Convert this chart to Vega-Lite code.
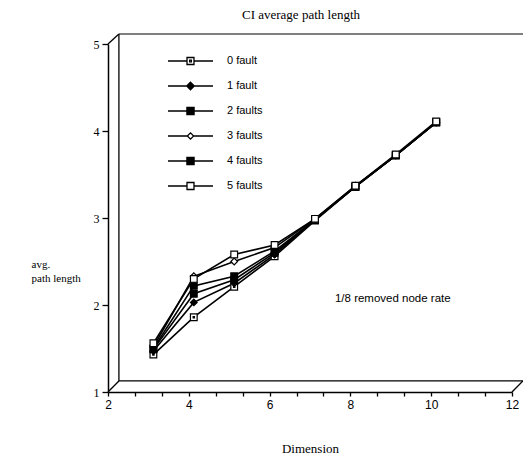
{
  "$schema": "https://vega.github.io/schema/vega-lite/v6.json",
  "width": 404,
  "height": 348,
  "autosize": "none",
  "padding": {"left": 108, "top": 44, "right": 11, "bottom": 64},
  "background": "white",
  "config": {
    "view": {"stroke": null},
    "axis": {"grid": false, "domainColor": "black", "tickColor": "black", "labelColor": "black", "titleColor": "black", "domainWidth": 1.5, "tickWidth": 1.3}
  },
  "title": {"text": "CI average path length", "font": "Liberation Serif", "fontSize": 13, "fontWeight": "normal", "color": "black", "anchor": "middle", "dx": -9, "offset": 11},
  "data": {
    "values": [
      {"dim": 3, "len": 1.43, "series": "0 fault"}, {"dim": 4, "len": 1.86, "series": "0 fault"}, {"dim": 5, "len": 2.21, "series": "0 fault"}, {"dim": 6, "len": 2.56, "series": "0 fault"}, {"dim": 7, "len": 2.97, "series": "0 fault"}, {"dim": 8, "len": 3.36, "series": "0 fault"}, {"dim": 9, "len": 3.72, "series": "0 fault"}, {"dim": 10, "len": 4.1, "series": "0 fault"},
      {"dim": 3, "len": 1.47, "series": "1 fault"}, {"dim": 4, "len": 2.03, "series": "1 fault"}, {"dim": 5, "len": 2.25, "series": "1 fault"}, {"dim": 6, "len": 2.58, "series": "1 fault"}, {"dim": 7, "len": 2.98, "series": "1 fault"}, {"dim": 8, "len": 3.36, "series": "1 fault"}, {"dim": 9, "len": 3.72, "series": "1 fault"}, {"dim": 10, "len": 4.1, "series": "1 fault"},
      {"dim": 3, "len": 1.49, "series": "2 faults"}, {"dim": 4, "len": 2.13, "series": "2 faults"}, {"dim": 5, "len": 2.29, "series": "2 faults"}, {"dim": 6, "len": 2.6, "series": "2 faults"}, {"dim": 7, "len": 2.98, "series": "2 faults"}, {"dim": 8, "len": 3.36, "series": "2 faults"}, {"dim": 9, "len": 3.72, "series": "2 faults"}, {"dim": 10, "len": 4.1, "series": "2 faults"},
      {"dim": 3, "len": 1.52, "series": "3 faults"}, {"dim": 4, "len": 2.33, "series": "3 faults"}, {"dim": 5, "len": 2.5, "series": "3 faults"}, {"dim": 6, "len": 2.66, "series": "3 faults"}, {"dim": 7, "len": 2.99, "series": "3 faults"}, {"dim": 8, "len": 3.37, "series": "3 faults"}, {"dim": 9, "len": 3.72, "series": "3 faults"}, {"dim": 10, "len": 4.1, "series": "3 faults"},
      {"dim": 3, "len": 1.5, "series": "4 faults"}, {"dim": 4, "len": 2.22, "series": "4 faults"}, {"dim": 5, "len": 2.33, "series": "4 faults"}, {"dim": 6, "len": 2.62, "series": "4 faults"}, {"dim": 7, "len": 2.98, "series": "4 faults"}, {"dim": 8, "len": 3.36, "series": "4 faults"}, {"dim": 9, "len": 3.72, "series": "4 faults"}, {"dim": 10, "len": 4.1, "series": "4 faults"},
      {"dim": 3, "len": 1.56, "series": "5 faults"}, {"dim": 4, "len": 2.3, "series": "5 faults"}, {"dim": 5, "len": 2.58, "series": "5 faults"}, {"dim": 6, "len": 2.69, "series": "5 faults"}, {"dim": 7, "len": 2.99, "series": "5 faults"}, {"dim": 8, "len": 3.37, "series": "5 faults"}, {"dim": 9, "len": 3.73, "series": "5 faults"}, {"dim": 10, "len": 4.11, "series": "5 faults"}
    ]
  },
  "layer": [
    {
      "mark": {"type": "line", "color": "black", "strokeWidth": 1.6, "xOffset": 5},
      "encoding": {
        "x": {
          "field": "dim", "type": "quantitative",
          "scale": {"domain": [2, 12], "nice": false, "zero": false},
          "axis": {
            "orient": "bottom",
            "title": "Dimension", "titleFont": "Liberation Serif", "titleFontSize": 13, "titleFontWeight": "normal", "titleY": 56, "titleBaseline": "middle",
            "values": [2, 4, 6, 8, 10, 12], "format": "d",
            "labelFont": "Liberation Sans", "labelFontSize": 12, "labelPadding": 3, "tickSize": 4, "labelFlush": false, "labelOverlap": false
          }
        },
        "y": {
          "field": "len", "type": "quantitative",
          "scale": {"domain": [1, 5], "nice": false, "zero": false},
          "axis": {
            "title": ["avg.", "path length"], "titleFont": "Liberation Serif", "titleFontSize": 11, "titleFontWeight": "normal",
            "titleAngle": 0, "titleAlign": "left", "titleBaseline": "top", "titleX": -77, "titleY": 214, "titleLineHeight": 14,
            "values": [1, 2, 3, 4, 5], "format": "d", "labelFont": "Liberation Serif", "labelFontSize": 12, "tickSize": 6, "labelPadding": 3, "labelFlush": false
          }
        },
        "detail": {"field": "series"}
      }
    },
    {
      "mark": {"type": "point", "filled": true, "stroke": "black", "strokeWidth": 1.2, "opacity": 1, "size": 45, "xOffset": 5},
      "encoding": {
        "x": {"field": "dim", "type": "quantitative", "scale": {"domain": [2, 12], "nice": false, "zero": false}, "axis": null},
        "y": {"field": "len", "type": "quantitative", "scale": {"domain": [1, 5], "nice": false, "zero": false}},
        "shape": {
          "field": "series", "type": "nominal", "legend": null,
          "scale": {
            "domain": ["0 fault", "1 fault", "2 faults", "3 faults", "4 faults", "5 faults"],
            "range": ["M-1,-1H1V1H-1ZM-0.2,-0.2H0.2V0.2H-0.2Z", "diamond", "square", "diamond", "square", "square"]
          }
        },
        "fill": {
          "field": "series", "type": "nominal", "legend": null,
          "scale": {
            "domain": ["0 fault", "1 fault", "2 faults", "3 faults", "4 faults", "5 faults"],
            "range": ["white", "black", "black", "white", "black", "white"]
          }
        }
      }
    },
    {
      "mark": {"type": "point", "filled": false, "color": "black", "strokeWidth": 1.3, "opacity": 0},
      "encoding": {
        "x": {"field": "dim", "type": "quantitative", "scale": {"domain": [2, 12], "nice": false, "zero": false}, "axis": null},
        "y": {"field": "len", "type": "quantitative", "scale": {"domain": [1, 5], "nice": false, "zero": false}},
        "shape": {
          "field": "series", "type": "nominal",
          "scale": {
            "domain": ["0 fault", "1 fault", "2 faults", "3 faults", "4 faults", "5 faults"],
            "range": [
              "M-1,0H-0.155M0.155,0H1M-0.155,-0.155H0.155V0.155H-0.155ZM-0.04,-0.04H0.04V0.04H-0.04Z",
              "M-1,0H1M-0.17,0L0,-0.17L0.17,0L0,0.17ZM-0.11,-0.06H0.11M-0.11,0.06H0.11M-0.05,-0.12H0.05M-0.05,0.12H0.05",
              "M-1,0H1M-0.16,-0.16H0.16V0.16H-0.16ZM-0.16,-0.1H0.16M-0.16,-0.05H0.16M-0.16,0.05H0.16M-0.16,0.1H0.16",
              "M-1,0H-0.14M0.14,0H1M-0.14,0L0,-0.14L0.14,0L0,0.14Z",
              "M-1,0H1M-0.16,-0.16H0.16V0.16H-0.16ZM-0.16,-0.1H0.16M-0.16,-0.05H0.16M-0.16,0.05H0.16M-0.16,0.1H0.16",
              "M-1,0H-0.155M0.155,0H1M-0.155,-0.155H0.155V0.155H-0.155Z"
            ]
          },
          "legend": {
            "orient": "none", "legendX": 59, "legendY": 4.5, "title": null, "padding": 0,
            "symbolSize": 2025, "clipHeight": 25, "rowPadding": 0, "labelOffset": 13,
            "labelFont": "Liberation Sans", "labelFontSize": 11, "labelColor": "black",
            "symbolStrokeColor": "black", "symbolFillColor": "transparent", "symbolStrokeWidth": 1.3, "symbolOpacity": 1
          }
        }
      }
    },
    {
      "data": {"values": [{}]},
      "mark": {"type": "rule", "color": "black", "strokeWidth": 1.3},
      "encoding": {
        "x": {"datum": 2.27, "type": "quantitative", "scale": {"domain": [2, 12], "nice": false, "zero": false}, "axis": null},
        "y": {"datum": 1.127, "type": "quantitative", "scale": {"domain": [1, 5], "nice": false, "zero": false}},
        "y2": {"datum": 5.115}
      }
    },
    {
      "data": {"values": [{}]},
      "mark": {"type": "rule", "color": "black", "strokeWidth": 1.2},
      "encoding": {
        "x": {"datum": 2.27, "type": "quantitative", "scale": {"domain": [2, 12], "nice": false, "zero": false}, "axis": null},
        "x2": {"datum": 12.6},
        "y": {"datum": 5.115, "type": "quantitative", "scale": {"domain": [1, 5], "nice": false, "zero": false}}
      }
    },
    {
      "data": {"values": [{}]},
      "mark": {"type": "rule", "color": "black", "strokeWidth": 1.2},
      "encoding": {
        "x": {
          "datum": 2.27, "type": "quantitative", "scale": {"domain": [2, 12], "nice": false, "zero": false},
          "axis": {"orient": "top", "offset": -352, "values": [2.6667, 3.3333, 4.6667, 5.3333, 6.6667, 7.3333, 8.6667, 9.3333, 10.6667, 11.3333], "labels": false, "domain": false, "title": null, "ticks": true, "tickSize": 4, "tickWidth": 1.3, "tickColor": "black", "tickOpacity": 1}
        },
        "x2": {"datum": 12.27},
        "y": {"datum": 1.127, "type": "quantitative", "scale": {"domain": [1, 5], "nice": false, "zero": false}}
      }
    },
    {
      "data": {"values": [{}]},
      "mark": {"type": "rule", "color": "black", "strokeWidth": 1.3},
      "encoding": {
        "x": {"datum": 2, "type": "quantitative", "scale": {"domain": [2, 12], "nice": false, "zero": false}, "axis": null},
        "x2": {"datum": 2.27},
        "y": {"datum": 1, "type": "quantitative", "scale": {"domain": [1, 5], "nice": false, "zero": false}},
        "y2": {"datum": 1.127}
      }
    },
    {
      "data": {"values": [{}]},
      "mark": {"type": "rule", "color": "black", "strokeWidth": 1.3},
      "encoding": {
        "x": {"datum": 2, "type": "quantitative", "scale": {"domain": [2, 12], "nice": false, "zero": false}, "axis": null},
        "x2": {"datum": 2.27},
        "y": {"datum": 5, "type": "quantitative", "scale": {"domain": [1, 5], "nice": false, "zero": false}},
        "y2": {"datum": 5.115}
      }
    },
    {
      "data": {"values": [{}]},
      "mark": {"type": "rule", "color": "black", "strokeWidth": 1.3},
      "encoding": {
        "x": {"datum": 12, "type": "quantitative", "scale": {"domain": [2, 12], "nice": false, "zero": false}, "axis": null},
        "x2": {"datum": 12.27},
        "y": {"datum": 1, "type": "quantitative", "scale": {"domain": [1, 5], "nice": false, "zero": false}},
        "y2": {"datum": 1.127}
      }
    },
    {
      "data": {"values": [{}]},
      "mark": {"type": "text", "text": "1/8 removed node rate", "font": "Liberation Sans", "fontSize": 11.5, "fontWeight": "normal", "fill": "black", "align": "center", "baseline": "middle"},
      "encoding": {
        "x": {"datum": 9.05, "type": "quantitative", "scale": {"domain": [2, 12], "nice": false, "zero": false}, "axis": null},
        "y": {"datum": 2.07, "type": "quantitative", "scale": {"domain": [1, 5], "nice": false, "zero": false}}
      }
    }
  ],
  "resolve": {"scale": {"shape": "independent", "x": "independent"}}
}
